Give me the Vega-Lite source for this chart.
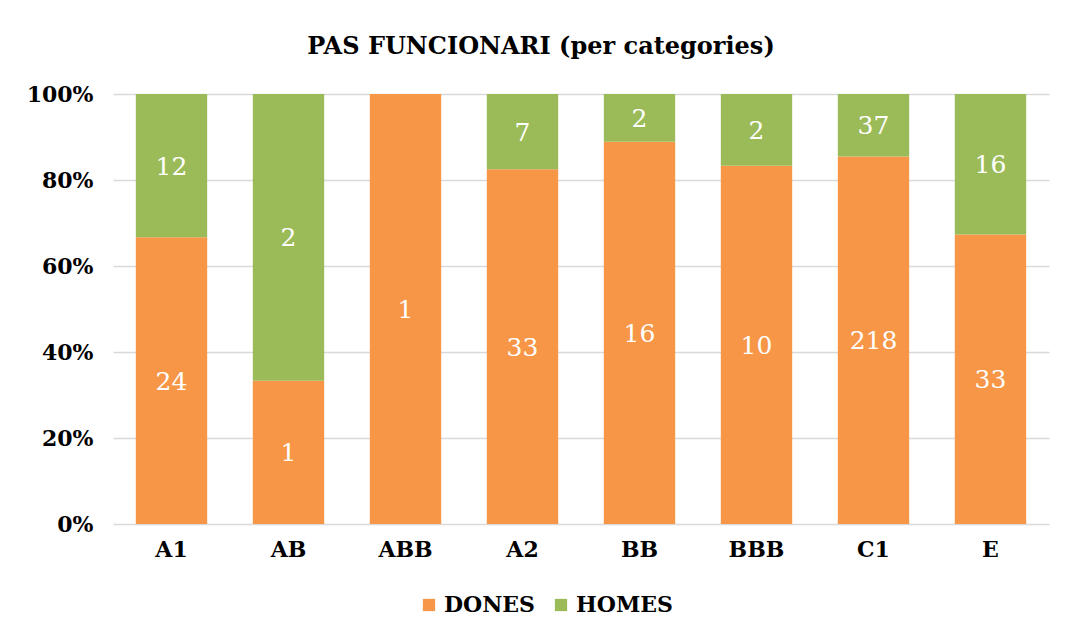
{
  "$schema": "https://vega.github.io/schema/vega-lite/v6.json",
  "autosize": "none",
  "width": 936,
  "height": 430,
  "padding": {"top": 94, "left": 113, "right": 17, "bottom": 112},
  "background": "white",
  "title": {
    "text": "PAS FUNCIONARI (per categories)",
    "font": "DejaVu Serif",
    "fontSize": 24,
    "fontWeight": "bold",
    "color": "#000000",
    "anchor": "middle",
    "dx": -40,
    "offset": 24
  },
  "data": {
    "values": [
      {"cat": "A1", "sex": "DONES", "value": 24},
      {"cat": "A1", "sex": "HOMES", "value": 12},
      {"cat": "AB", "sex": "DONES", "value": 1},
      {"cat": "AB", "sex": "HOMES", "value": 2},
      {"cat": "ABB", "sex": "DONES", "value": 1},
      {"cat": "ABB", "sex": "HOMES", "value": 0},
      {"cat": "A2", "sex": "DONES", "value": 33},
      {"cat": "A2", "sex": "HOMES", "value": 7},
      {"cat": "BB", "sex": "DONES", "value": 16},
      {"cat": "BB", "sex": "HOMES", "value": 2},
      {"cat": "BBB", "sex": "DONES", "value": 10},
      {"cat": "BBB", "sex": "HOMES", "value": 2},
      {"cat": "C1", "sex": "DONES", "value": 218},
      {"cat": "C1", "sex": "HOMES", "value": 37},
      {"cat": "E", "sex": "DONES", "value": 33},
      {"cat": "E", "sex": "HOMES", "value": 16}
    ]
  },
  "transform": [
    {"stack": "value", "groupby": ["cat"], "sort": [{"field": "sex", "order": "ascending"}], "offset": "normalize", "as": ["y0", "y1"]},
    {"calculate": "(datum.y0 + datum.y1) / 2", "as": "ymid"}
  ],
  "encoding": {
    "x": {
      "field": "cat",
      "type": "nominal",
      "sort": ["A1", "AB", "ABB", "A2", "BB", "BBB", "C1", "E"],
      "scale": {"paddingInner": 0.39, "paddingOuter": 0.195},
      "axis": {
        "title": null,
        "labelAngle": 0,
        "labelFont": "DejaVu Serif",
        "labelFontSize": 22,
        "labelFontWeight": "bold",
        "labelColor": "#000000",
        "labelPadding": 15,
        "ticks": false,
        "domain": false
      }
    }
  },
  "layer": [
    {
      "mark": {"type": "bar"},
      "encoding": {
        "y": {
          "field": "y0",
          "type": "quantitative",
          "scale": {"domain": [0, 1]},
          "axis": {
            "title": null,
            "format": ".0%",
            "values": [0, 0.2, 0.4, 0.6, 0.8, 1],
            "labelFont": "DejaVu Serif",
            "labelFontSize": 22,
            "labelFontWeight": "bold",
            "labelColor": "#000000",
            "labelPadding": 20,
            "ticks": false,
            "domain": false,
            "grid": true,
            "gridColor": "#D9D9D9",
            "gridWidth": 1.5
          }
        },
        "y2": {"field": "y1"},
        "color": {
          "field": "sex",
          "type": "nominal",
          "scale": {"domain": ["DONES", "HOMES"], "range": ["#F79646", "#9BBB59"]},
          "legend": {
            "title": null,
            "orient": "none",
            "direction": "horizontal",
            "legendX": 305,
            "legendY": 500,
            "symbolType": "square",
            "symbolSize": 150,
            "symbolStrokeWidth": 0,
            "labelFont": "DejaVu Serif",
            "labelFontSize": 22,
            "labelFontWeight": "bold",
            "labelColor": "#000000",
            "labelOffset": 4,
            "columnPadding": 14
          }
        }
      }
    },
    {
      "transform": [{"filter": "datum.value > 0"}],
      "mark": {"type": "text", "font": "DejaVu Serif", "fontSize": 25, "color": "white", "baseline": "middle", "align": "center", "dy": 1},
      "encoding": {
        "y": {"field": "ymid", "type": "quantitative"},
        "text": {"field": "value", "type": "quantitative"}
      }
    }
  ],
  "config": {
    "view": {"stroke": null}
  }
}
